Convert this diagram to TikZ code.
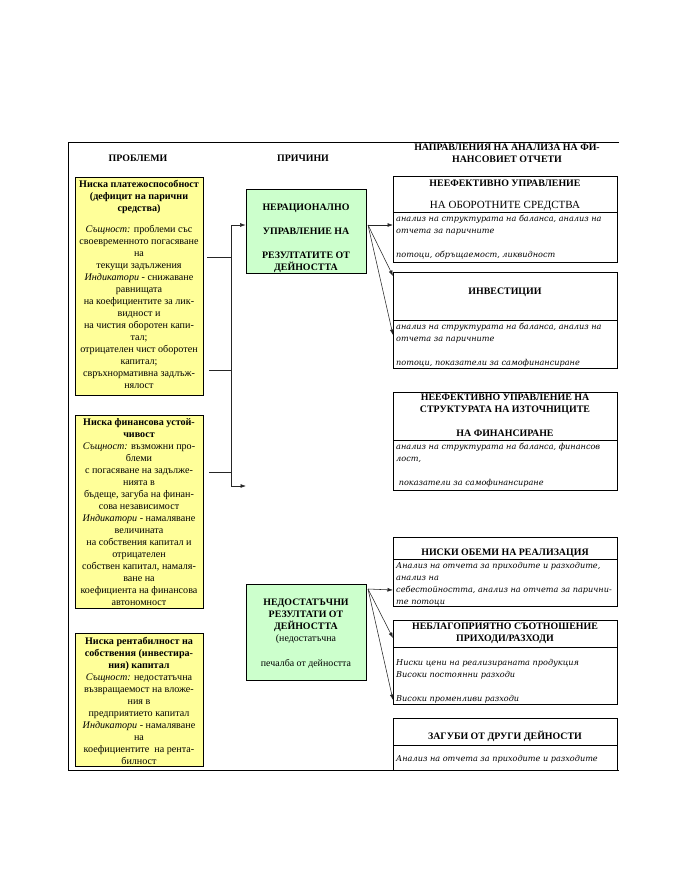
\documentclass[tikz,border=0pt]{standalone}
\usepackage{fontspec}
\setmainfont{Liberation Serif}
\newfontfamily\dvitalic{DejaVu Serif}
\usetikzlibrary{arrows.meta,fit}
\definecolor{yel}{HTML}{FFFF99}
\definecolor{grn}{HTML}{CCFFCC}
\newcommand\fyel{\fontsize{9.2}{10.9}\selectfont}
\newcommand\fhd{\fontsize{9}{10.9}\selectfont\bfseries}
\newcommand\fbody{\dvitalic\itshape\fontsize{7.4}{10.9}\selectfont}
\begin{document}
\begin{tikzpicture}[x=0.90936pt,y=-0.90936pt,
  box/.style={draw=black,line width=0.6pt,inner sep=0pt},
  ybox/.style={box,fill=yel},
  gbox/.style={box,fill=grn},
  rbox/.style={box,fill=white},
  txt/.style={inner sep=0pt,align=center,anchor=north},
  ltxt/.style={inner sep=0pt,align=left,anchor=north west,font=\fbody},
  conn/.style={line width=0.5pt,draw=black!85},
  arr/.style={conn,-{Latex[length=5pt,width=3.5pt]}}]
\useasboundingbox (0,0) rectangle (673,871);
\fill[white] (0,0) rectangle (673,871);
% frame
\coordinate (f1) at (68,142); \coordinate (f2) at (619,142);
\coordinate (f3) at (68,770); \coordinate (f4) at (619,770);
\draw[line width=0.8pt] (f2) -- (f1) -- (f3) -- (f4);
% headings
\node[txt,font=\fhd] (hprob) at (138,155) {ПРОБЛЕМИ};
\node[txt,font=\fhd] (hpric) at (303,155) {ПРИЧИНИ};
\node[txt,font=\fhd] (hnapr) at (507,144) {НАПРАВЛЕНИЯ НА АНАЛИЗА НА ФИ-\\НАНСОВИЕТ ОТЧЕТИ};
% yellow boxes
\node[ybox,fit={(75,177)(203,395)}] (p1) {};
\node[txt,font=\fyel] (p1t) at (139,180) {\textbf{Ниска платежоспособност}\\\textbf{(дефицит на парични}\\\textbf{средства)}\\[8pt]
\textit{Същност:} проблеми със\\своевременното погасяване\\на\\текущи задължения\\\textit{Индикатори} - снижаване\\равнищата\\на коефициентите за лик-\\видност и\\на чистия оборотен капи-\\тал;\\отрицателен чист оборотен\\капитал;\\свръхнормативна задлъж-\\нялост};
\node[ybox,fit={(75,415)(203,608)}] (p2) {};
\node[txt,font=\fyel] (p2t) at (139,418) {\textbf{Ниска финансова устой-}\\\textbf{чивост}\\\textit{Същност:} възможни про-\\блеми\\с погасяване на задълже-\\нията в\\бъдеще, загуба на финан-\\сова независимост\\\textit{Индикатори} - намаляване\\величината\\на собствения капитал и\\отрицателен\\собствен капитал, намаля-\\ване на\\коефициента на финансова\\автономност};
\node[ybox,fit={(75,633)(203,766)}] (p3) {};
\node[txt,font=\fyel] (p3t) at (139,637) {\textbf{Ниска рентабилност на}\\\textbf{собствения (инвестира-}\\\textbf{ния) капитал}\\\textit{Същност:} недостатъчна\\възвращаемост на вложе-\\ния в\\предприятието капитал\\\textit{Индикатори} - намаляване\\на\\коефициентите~ на рента-\\билност};
% green boxes
\node[gbox,fit={(246,189)(366,273)}] (ga) {};
\node[txt,font=\fhd] (gat) at (306,204) {НЕРАЦИОНАЛНО\\[11pt]УПРАВЛЕНИЕ НА\\[11pt]РЕЗУЛТАТИТЕ ОТ\\ДЕЙНОСТТА};
\node[gbox,fit={(246,584)(366,680)}] (gb) {};
\node[txt,font=\fhd] (gbt) at (306,599) {НЕДОСТАТЪЧНИ\\РЕЗУЛТАТИ ОТ\\ДЕЙНОСТТА\\\mdseries(недостатъчна\\[12pt]\mdseries печалба от дейността};
% right boxes
\node[rbox,fit={(393,176)(617,212)}] (r1h) {};
\node[rbox,fit={(393,212)(617,262)}] (r1b) {};
\node[txt,font=\fhd] (r1ht) at (505,180) {НЕЕФЕКТИВНО УПРАВЛЕНИЕ\\[9pt]\mdseries\fontsize{10}{11}\selectfont НА ОБОРОТНИТЕ СРЕДСТВА};
\node[ltxt] (r1bt) at (396,215) {анализ на структурата на баланса, анализ на\\отчета за паричните\\[10.9pt]потоци, обръщаемост, ликвидност};
\node[rbox,fit={(393,272)(617,320)}] (r2h) {};
\node[rbox,fit={(393,320)(617,368)}] (r2b) {};
\node[txt,font=\fhd] (r2ht) at (505,288) {ИНВЕСТИЦИИ};
\node[ltxt] (r2bt) at (396,323) {анализ на структурата на баланса, анализ на\\отчета за паричните\\[10.9pt]потоци, показатели за самофинансиране};
\node[rbox,fit={(393,392)(617,440)}] (r3h) {};
\node[rbox,fit={(393,440)(617,490)}] (r3b) {};
\node[txt,font=\fhd] (r3ht) at (505,394) {НЕЕФЕКТИВНО УПРАВЛЕНИЕ НА\\СТРУКТУРАТА НА ИЗТОЧНИЦИТЕ\\[10.9pt]НА ФИНАНСИРАНЕ};
\node[ltxt] (r3bt) at (396,443) {анализ на структурата на баланса, финансов\\лост,\\[10.9pt]\ показатели за самофинансиране};
\node[rbox,fit={(393,537)(617,559)}] (r4h) {};
\node[rbox,fit={(393,559)(617,606)}] (r4b) {};
\node[txt,font=\fhd] (r4ht) at (505,549) {НИСКИ ОБЕМИ НА РЕАЛИЗАЦИЯ};
\node[ltxt] (r4bt) at (396,562) {Анализ на отчета за приходите и разходите,\\анализ на\\себестойността, анализ на отчета за парични-\\те потоци};
\node[rbox,fit={(393,620)(617,647)}] (r5h) {};
\node[rbox,fit={(393,647)(617,704)}] (r5b) {};
\node[txt,font=\fhd] (r5ht) at (505,623) {НЕБЛАГОПРИЯТНО СЪОТНОШЕНИЕ\\ПРИХОДИ/РАЗХОДИ};
\node[ltxt] (r5bt) at (396,659) {Ниски цени на реализираната продукция\\Високи постоянни разходи\\[10.9pt]Високи променливи разходи};
\node[rbox,fit={(393,718)(617,745)}] (r6h) {};
\node[rbox,fit={(393,745)(617,770)}] (r6b) {};
\node[txt,font=\fhd] (r6ht) at (505,731) {ЗАГУБИ ОТ ДРУГИ ДЕЙНОСТИ};
\node[ltxt] (r6bt) at (396,755) {Анализ на отчета за приходите и разходите};
% left connector
\coordinate (vtop) at (231,225); \coordinate (vbot) at (231,486);
\coordinate (vend) at (246,486);
\coordinate (l1a) at (207,257); \coordinate (l1b) at (231,257);
\coordinate (l2a) at (209,370); \coordinate (l2b) at (231,370);
\coordinate (l3a) at (209,472); \coordinate (l3b) at (231,472);
\draw[conn] (vtop) -- (vbot);
\draw[arr] (vtop) -- (vtop -| ga.west);
\draw[arr] (vbot) -- (vend);
\draw[conn] (l1a) -- (l1b);
\draw[conn] (l2a) -- (l2b);
\draw[conn] (l3a) -- (l3b);
% fans from green boxes
\coordinate (ao) at (368,225);
\coordinate (at1) at (393,225); \coordinate (at2) at (393,276); \coordinate (at3) at (393,335);
\draw[arr] (ao) -- (at1);
\draw[arr] (ao) -- (at2);
\draw[arr] (ao) -- (at3);
\coordinate (bo) at (368,589);
\coordinate (bt1) at (393,590); \coordinate (bt2) at (393,638); \coordinate (bt3) at (393,700);
\draw[arr] (bo) -- (bt1);
\draw[arr] (bo) -- (bt2);
\draw[arr] (bo) -- (bt3);
\end{tikzpicture}
\end{document}
